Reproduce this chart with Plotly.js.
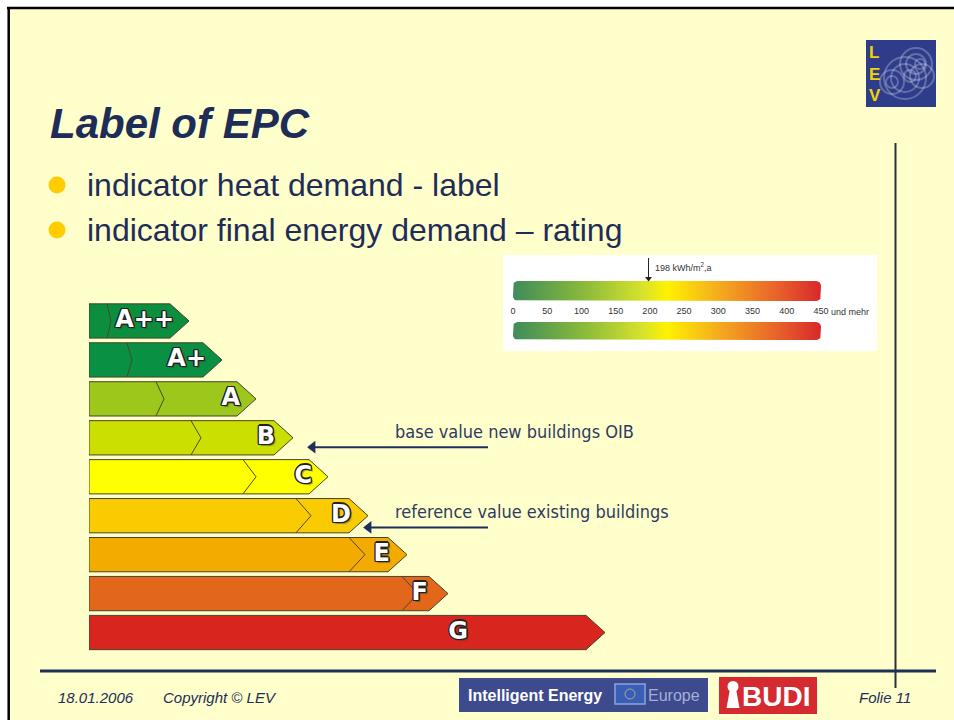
<!DOCTYPE html>
<html><head><meta charset="utf-8">
<script src="https://cdn.plot.ly/plotly-3.0.1.min.js"></script>
<style>html,body{margin:0;padding:0;background:#fff;}#chart{width:954px;height:720px;}</style>
</head><body><div id="chart"></div>
<script>
// ---------------- data ----------------
const classes    = ['A++','A+','A','B','C','D','E','F','G'];
const barLength  = [100,133,167,204,239,279,318,359,516];
const innerMark  = [18,38,67,102,154,207,260,313,null];
const innerDepth = [4,5,8,10,13,15,16,16,null];
const classColors = ['#0B8F3F','#099043','#9DC81B','#CBDF00','#FFFF00','#F9CB00','#F4AB00','#E2671A','#D8261E'];
const scaleTicks = [0,50,100,150,200,250,300,350,400,450];
const scaleTickText = ['0','50','100','150','200','250','300','350','400','450'];
const scaleMarker = 198;
const scaleMarkerText = '198 kWh/m<sup>2</sup>,a';
const bullets = ['indicator heat demand - label','indicator final energy demand \u2013 rating'];
const notes = ['base value new buildings OIB','reference value existing buildings'];

// ---------------- layout helpers ----------------
const labelEnd = [85,117,151,186,223,262,301,339,379];
const noteRow = [2.85,4.88];
const noteArrowRow = [3.24,5.30];
const noteArrowTip = [216,272];
const noteArrowTail = 399;
const navy = '#1E2D58';
const tip = 19, half = 0.44;

const traces = [];
classes.forEach((c,i)=>{
  const L = barLength[i];
  traces.push({type:'scatter',mode:'lines',xaxis:'x2',yaxis:'y2',
    x:[0,L-tip,L,L-tip,0,0], y:[i-half,i-half,i,i+half,i+half,i-half],
    fill:'toself', fillcolor:classColors[i], line:{color:'#45432e',width:1}, hoverinfo:'skip'});
  if (innerMark[i]!==null){
    const m = innerMark[i];
    traces.push({type:'scatter',mode:'lines',xaxis:'x2',yaxis:'y2',
      x:[m,m+innerDepth[i],m], y:[i-half,i,i+half],
      line:{color:'#4a4830',width:1}, hoverinfo:'skip'});
  }
});
// class letters: white face with dark outline (text-shadow)
traces.push({type:'scatter',mode:'text',xaxis:'x2',yaxis:'y2',
  x:labelEnd, y:classes.map((c,i)=>i), text:classes, textposition:'middle left',
  textfont:{family:'DejaVu Sans',size:24,color:'#ffffff',weight:700,
    shadow:'-1.3px 0 0 #222,1.3px 0 0 #222,0 -1.3px 0 #222,0 1.3px 0 #222,-1px -1px 0 #222,1px 1px 0 #222,1px -1px 0 #222,-1px 1px 0 #222,2px 2px 1px rgba(60,60,60,0.5)'},
  hoverinfo:'skip'});

// arrows pointing at the classes
notes.forEach((t,k)=>{
  traces.push({type:'scatter',mode:'lines',xaxis:'x2',yaxis:'y2',
    x:[noteArrowTip[k]+8,noteArrowTail], y:[noteArrowRow[k],noteArrowRow[k]],
    line:{color:'#1F2F5A',width:2},hoverinfo:'skip'});
  traces.push({type:'scatter',mode:'markers',xaxis:'x2',yaxis:'y2',
    x:[noteArrowTip[k]+7.6], y:[noteArrowRow[k]],
    marker:{symbol:'triangle-left',size:11,color:'#1F2F5A',line:{width:0}},hoverinfo:'skip'});
});

// gradient scale bars
function roundRect(x0,x1,y0,y1,rx,ry){
  const xs=[],ys=[],n=6;
  const corners=[[x1-rx,y0+ry,-Math.PI/2,0],[x1-rx,y1-ry,0,Math.PI/2],[x0+rx,y1-ry,Math.PI/2,Math.PI],[x0+rx,y0+ry,Math.PI,1.5*Math.PI]];
  corners.forEach(([cx,cy,a0,a1])=>{for(let k=0;k<=n;k++){const a=a0+(a1-a0)*k/n;xs.push(cx+rx*Math.cos(a));ys.push(cy+ry*Math.sin(a));}});
  xs.push(xs[0]);ys.push(ys[0]);return {x:xs,y:ys};
}
const grad = [[0,'#3E8C5A'],[0.22,'#86B83C'],[0.42,'#D6E22C'],[0.5,'#FFF200'],[0.68,'#F4A61F'],[0.86,'#E8612A'],[1,'#D8282B']];
[[0,1],[2.05,2.95]].forEach(([a,b])=>{
  const r = roundRect(scaleTicks[0],scaleTicks[scaleTicks.length-1],a,b,7,0.25);
  traces.push({type:'scatter',mode:'lines',xaxis:'x3',yaxis:'y3',x:r.x,y:r.y,fill:'toself',
    fillgradient:{type:'horizontal',colorscale:grad},line:{width:0,color:'rgba(0,0,0,0)'},hoverinfo:'skip'});
});
// 198 kWh marker arrow
traces.push({type:'scatter',mode:'lines',xaxis:'x3',yaxis:'y3',x:[scaleMarker,scaleMarker],y:[-1.15,-0.15],
  line:{color:'#222',width:1},hoverinfo:'skip'});
traces.push({type:'scatter',mode:'markers',xaxis:'x3',yaxis:'y3',x:[scaleMarker],y:[-0.12],
  marker:{symbol:'triangle-down',size:6,color:'#222',line:{width:0}},hoverinfo:'skip'});

// ---------------- shapes ----------------
const P = (o)=>Object.assign({xref:'x',yref:'y'},o);
const ring = 'rgba(235,240,255,0.28)';
const shapes = [
  P({type:'rect',x0:0,x1:954,y0:0,y1:7,fillcolor:'#ffffff',line:{width:0},layer:'below'}),
  P({type:'rect',x0:0,x1:7.5,y0:0,y1:720,fillcolor:'#ffffff',line:{width:0},layer:'below'}),
  P({type:'line',x0:7,x1:954,y0:8,y1:8,line:{color:'#000',width:2.5}}),
  P({type:'line',x0:8.7,x1:8.7,y0:7,y1:720,line:{color:'#000',width:2.5}}),
  // bullets
  P({type:'circle',x0:48.5,x1:65.5,y0:176.5,y1:193.5,fillcolor:'#FFCC00',line:{width:0}}),
  P({type:'circle',x0:48.5,x1:65.5,y0:221.5,y1:238.5,fillcolor:'#FFCC00',line:{width:0}}),
  // scale box
  P({type:'rect',x0:503,x1:877,y0:255,y1:351,fillcolor:'#ffffff',line:{width:0},layer:'below'}),
  // footer line & vertical line
  P({type:'line',x0:40,x1:936,y0:671,y1:671,line:{color:'#1F2F56',width:3}}),
  P({type:'line',x0:895.5,x1:895.5,y0:143,y1:688,line:{color:'#2A3040',width:2}}),
  // LEV logo
  P({type:'rect',x0:866,x1:936,y0:40,y1:107,fillcolor:'#2E3C8A',line:{width:0}}),
  P({type:'circle',x0:884,x1:926,y0:57,y1:99,line:{color:ring,width:2}}),
  P({type:'circle',x0:891,x1:919,y0:64,y1:92,line:{color:ring,width:2}}),
  P({type:'circle',x0:900,x1:932,y0:48,y1:80,line:{color:ring,width:2}}),
  P({type:'circle',x0:906,x1:926,y0:54,y1:74,line:{color:ring,width:2}}),
  P({type:'circle',x0:910,x1:934,y0:64,y1:88,line:{color:ring,width:2}}),
  P({type:'circle',x0:880,x1:904,y0:70,y1:94,line:{color:ring,width:2}}),
  P({type:'circle',x0:886,x1:898,y0:76,y1:88,line:{color:ring,width:2}}),
  P({type:'circle',x0:904,x1:916,y0:70,y1:82,line:{color:ring,width:2}}),
  P({type:'circle',x0:915,x1:925,y0:59,y1:69,line:{color:ring,width:2}}),
  // Intelligent Energy Europe
  P({type:'rect',x0:459,x1:708,y0:678,y1:712,fillcolor:'#3E4A8E',line:{width:0}}),
  P({type:'rect',x0:615,x1:645,y0:684,y1:704,fillcolor:'#3A5DB5',line:{color:'#8FA3D8',width:1.5}}),
  P({type:'circle',x0:625,x1:635,y0:689,y1:699,line:{color:'rgba(230,220,120,0.6)',width:1}}),
  // BUDI
  P({type:'rect',x0:719,x1:817,y0:677,y1:714,fillcolor:'#D42A30',line:{width:0}}),
  P({type:'circle',x0:727.5,x1:738.5,y0:681,y1:692,fillcolor:'#ffffff',line:{width:0}}),
  P({type:'path',path:'M 730 689 L 736 689 L 739.5 708 L 726.5 708 Z',fillcolor:'#ffffff',line:{width:0}})
];

// ---------------- annotations ----------------
const T = (o)=>Object.assign({xref:'x',yref:'y',showarrow:false,xanchor:'left',yanchor:'middle'},o);
const annotations = [
  T({x:48,y:123,text:'<b><i>Label of EPC</i></b>',font:{family:'Liberation Sans',size:42,color:navy}}),
  T({x:85,y:185,text:bullets[0],font:{family:'Liberation Sans',size:32,color:navy}}),
  T({x:85,y:230,text:bullets[1],font:{family:'Liberation Sans',size:32,color:navy}}),
  T({x:56,y:697,text:'<i>18.01.2006</i>',font:{family:'Liberation Sans',size:15,color:navy}}),
  T({x:161,y:697,text:'<i>Copyright \u00a9 LEV</i>',font:{family:'Liberation Sans',size:15,color:navy}}),
  T({x:857,y:697,text:'<i>Folie 11</i>',font:{family:'Liberation Sans',size:15,color:navy}}),
  T({x:466,y:695,text:'<b>Intelligent Energy</b>',font:{family:'Liberation Sans',size:16,color:'#ffffff'}}),
  T({x:646,y:695,text:'Europe',font:{family:'Liberation Sans',size:16,color:'#A5AED6'}}),
  T({x:740,y:696,text:'<b>BUDI</b>',font:{family:'Liberation Sans',size:28,color:'#ffffff'}}),
  T({x:867,y:52,text:'<b>L</b>',font:{family:'Liberation Sans',size:17,color:'#F5D300'}}),
  T({x:867,y:74,text:'<b>E</b>',font:{family:'Liberation Sans',size:17,color:'#F5D300'}}),
  T({x:867,y:95,text:'<b>V</b>',font:{family:'Liberation Sans',size:17,color:'#F5D300'}}),
  {xref:'x3',yref:'y3',x:scaleMarker,y:-0.7,xshift:4,text:scaleMarkerText,showarrow:false,xanchor:'left',yanchor:'middle',
    font:{family:'Liberation Sans',size:9,color:'#333'}},
  {xref:'x3',yref:'y3',x:scaleTicks[scaleTicks.length-1],y:1.55,xshift:8,text:'und mehr',showarrow:false,xanchor:'left',yanchor:'middle',
    font:{family:'Liberation Sans',size:9,color:'#333'}}
];
notes.forEach((t,k)=>{
  annotations.push({xref:'x2',yref:'y2',x:304,y:noteRow[k],text:t,showarrow:false,xanchor:'left',yanchor:'middle',
    font:{family:'DejaVu Sans Condensed, DejaVu Sans',size:18,color:'#2E3B62'}});
});

const layout = {
  width:954,height:720,margin:{l:0,r:0,t:0,b:0},
  paper_bgcolor:'#FFFFCC',plot_bgcolor:'rgba(0,0,0,0)',showlegend:false,
  xaxis:{range:[0,954],domain:[0,1],visible:false,fixedrange:true},
  yaxis:{range:[720,0],domain:[0,1],visible:false,fixedrange:true},
  xaxis2:{domain:[89/954,605/954],range:[0,516],visible:false,anchor:'y2'},
  yaxis2:{domain:[1-652/720,1-301.5/720],range:[8.5,-0.5],visible:false,anchor:'x2'},
  xaxis3:{domain:[513/954,821/954],range:[0,450],anchor:'free',position:1-304/720,
    showline:false,showgrid:false,zeroline:false,ticks:'',tickmode:'array',tickvals:scaleTicks,ticktext:scaleTickText,
    tickfont:{family:'Liberation Sans',size:9,color:'#333'}},
  yaxis3:{domain:[1-341/720,1-257/720],range:[3,-1.2],visible:false,anchor:'x3'},
  shapes:shapes,annotations:annotations
};
Plotly.newPlot('chart',traces,layout,{staticPlot:true,displayModeBar:false});
</script></body></html>
